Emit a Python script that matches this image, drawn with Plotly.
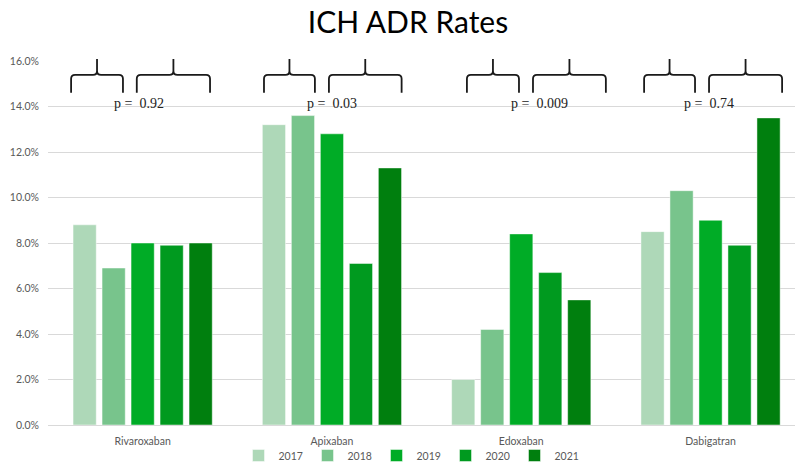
import plotly.graph_objects as go

drugs = ["Rivaroxaban", "Apixaban", "Edoxaban", "Dabigatran"]
years = ["2017", "2018", "2019", "2020", "2021"]
rates_2017 = [0.088, 0.132, 0.020, 0.085]
rates_2018 = [0.069, 0.136, 0.042, 0.103]
rates_2019 = [0.080, 0.128, 0.084, 0.090]
rates_2020 = [0.079, 0.071, 0.067, 0.079]
rates_2021 = [0.080, 0.113, 0.055, 0.135]
p_values = ["0.92", "0.03", "0.009", "0.74"]
y_ticks = [0, 0.02, 0.04, 0.06, 0.08, 0.10, 0.12, 0.14, 0.16]

series = [rates_2017, rates_2018, rates_2019, rates_2020, rates_2021]
colors = ["#AED8B8", "#78C48C", "#00AC26", "#009A1F", "#007F0E"]

W, H = 795, 470
ML, MR, MT, MB = 48, 0, 61, 42
plot_w = W - ML - MR
plot_h = H - MT - MB
cat_px = 189.3
x_min = -0.5
x_max = x_min + plot_w / cat_px

fig = go.Figure()
for yr, vals, col in zip(years, series, colors):
    fig.add_trace(go.Bar(
        x=drugs, y=vals, name=yr,
        marker=dict(color=col, line=dict(color="rgba(255,255,255,0.6)", width=0.8)),
        hovertemplate="%{x} " + yr + ": %{y:.1%}<extra></extra>",
    ))

# brace layout: (left offset, right offset) relative to category centre, in category units
brace_offsets = [
    [(-0.378, -0.104), (-0.031, 0.356)],
    [(-0.359, -0.090), (-0.016, 0.368)],
    [(-0.287, -0.012), (0.062, 0.447)],
    [(-0.351, -0.082), (-0.008, 0.378)],
]
p_text_offsets = [-0.02, 0.0, 0.095, -0.01]

def px_x(xd):
    return (xd - x_min) / (x_max - x_min)

def py(pix):
    # pixel row -> paper y
    return (H - MB - pix) / plot_h

y_top, y_mid, y_bot = 59, 75, 93
r = 4
shapes = []
for ci, pairs in enumerate(brace_offsets):
    for (a, b) in pairs:
        x0 = ML + (ci - x_min + a) * cat_px
        x1 = ML + (ci - x_min + b) * cat_px
        xm = (x0 + x1) / 2
        def P(xp, yp):
            return f"{(xp - ML) / plot_w:.5f},{py(yp):.5f}"
        path = (
            f"M{P(x0, y_bot)} L{P(x0, y_mid + r)} Q{P(x0, y_mid)} {P(x0 + r, y_mid)} "
            f"L{P(xm - r, y_mid)} Q{P(xm, y_mid)} {P(xm, y_mid - r)} L{P(xm, y_top)} "
            f"M{P(xm, y_mid - r)} Q{P(xm, y_mid)} {P(xm + r, y_mid)} "
            f"L{P(x1 - r, y_mid)} Q{P(x1, y_mid)} {P(x1, y_mid + r)} L{P(x1, y_bot)}"
        )
        shapes.append(dict(type="path", path=path, xref="paper", yref="paper",
                           line=dict(color="#1a1a1a", width=1.8)))

annotations = []
for ci, (pv, off) in enumerate(zip(p_values, p_text_offsets)):
    annotations.append(dict(
        x=px_x(ci + off), y=py(104), xref="paper", yref="paper",
        text=f"p =  {pv}", showarrow=False,
        font=dict(family="Liberation Serif", size=14, color="#222222"),
        xanchor="center", yanchor="middle",
    ))

fig.update_layout(
    width=W, height=H,
    margin=dict(l=ML, r=MR, t=MT, b=MB, pad=0),
    paper_bgcolor="white", plot_bgcolor="white",
    title=dict(text="ICH ADR Rates", x=(408) / W, xanchor="center",
               y=1 - 22 / H, yanchor="middle",
               font=dict(family="Lato", size=30, color="#000000")),
    barmode="group", bargap=0.234, bargroupgap=0.2,
    xaxis=dict(range=[x_min, x_max], showgrid=False, showline=True,
               linecolor="#D9D9D9", linewidth=1, ticks="",
               ticklabelstandoff=6,
               tickfont=dict(family="Lato", size=10.5, color="#595959")),
    yaxis=dict(range=[0, 0.16], tickvals=y_ticks, tickformat=".1%",
               showgrid=True, gridcolor="#D9D9D9", gridwidth=1,
               zeroline=False, showline=False, ticks="",
               ticklabelstandoff=8,
               tickfont=dict(family="Lato", size=10.5, color="#595959")),
    legend=dict(orientation="h", x=(411 - ML) / plot_w, xanchor="center",
                y=py(459), yanchor="middle", entrywidth=24, itemwidth=30,
                font=dict(family="Lato", size=10.5, color="#595959"),
                bgcolor="rgba(0,0,0,0)"),
    shapes=shapes, annotations=annotations,
)

fig.write_html("out.html", config={"displayModeBar": False},
               post_script="document.body.style.margin='0';")
